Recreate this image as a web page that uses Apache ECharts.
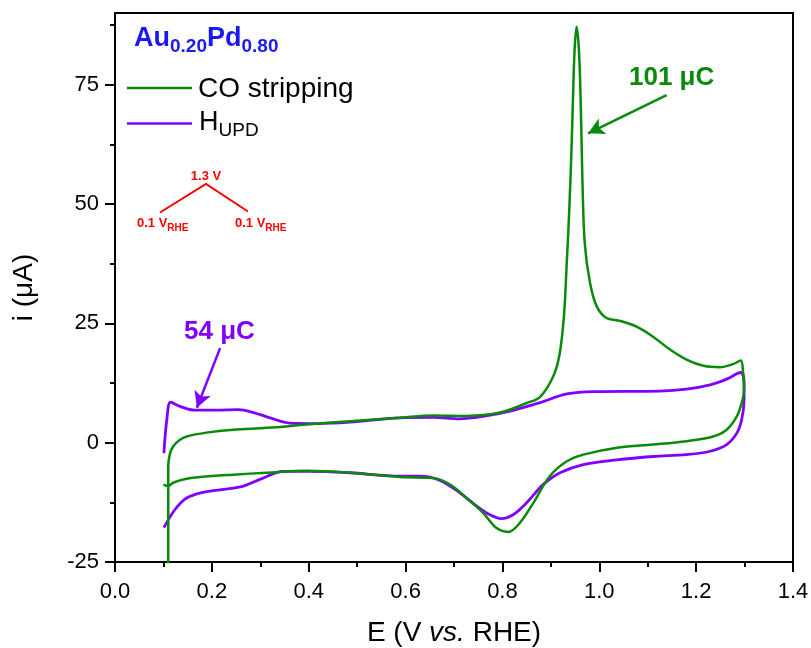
<!DOCTYPE html>
<html>
<head>
<meta charset="utf-8">
<script src="https://cdn.jsdelivr.net/npm/echarts@6/dist/echarts.min.js"></script>
<style>
html,body{margin:0;padding:0;background:#fff;}
#chart{width:811px;height:648px;}
</style>
</head>
<body>
<div id="chart"></div>
<script>
// ---- data (E in V vs RHE, i in µA) ----
const coE = [0.110,0.110,0.113,0.120,0.134,0.148,0.189,0.244,0.313,0.396,0.485,0.588,0.657,0.726,0.795,0.850,0.878,0.905,0.918,0.927,0.933,0.938,0.943,0.946,0.949,0.953,0.958,0.962,0.965,0.970,0.981,0.995,1.015,1.043,1.077,1.111,1.146,1.180,1.215,1.249,1.277,1.292,
  1.297,1.299,1.294,1.284,1.263,1.235,1.180,1.111,1.040,0.967,0.933,0.898,0.864,0.836,0.812,0.788,0.760,0.726,0.692,0.657,0.588,0.485,0.396,0.313,0.244,0.176,0.141,0.120,0.110,0.100];
const coI = [-30,-5,-2.5,-0.8,0.6,1.3,2.1,2.7,3.1,3.8,4.5,5.2,5.7,5.6,6.3,8.3,9.6,13.9,18.5,26.5,38.0,48.7,62.7,73.2,82.2,87.1,82.2,69.7,55.7,41.8,33.4,28.5,26.1,25.5,24.3,22.2,19.5,17.4,16.1,15.8,16.5,17.2,
  14.6,11.1,8.3,5.5,2.7,1.3,0.3,-0.4,-1.0,-2.5,-3.9,-7.0,-12.6,-16.8,-18.7,-17.9,-14.7,-11.6,-8.8,-7.4,-7.2,-6.3,-5.9,-6.3,-6.7,-7.2,-7.7,-8.4,-9.1,-8.8];
const hE = [0.101,0.107,0.115,0.134,0.165,0.210,0.255,0.286,0.320,0.361,0.416,0.485,0.588,0.657,0.712,0.760,0.816,0.878,0.933,0.988,1.125,1.180,1.229,1.263,1.292,
  1.299,1.299,1.294,1.284,1.263,1.229,1.180,1.111,1.036,0.967,0.919,0.884,0.850,0.822,0.798,0.774,0.747,0.712,0.671,0.630,0.588,0.485,0.403,0.348,0.299,0.265,0.224,0.182,0.148,0.124,0.101];
const hI = [-2.2,4.8,8.5,7.6,6.8,6.8,6.9,6.3,5.2,4.1,4.0,4.3,5.2,5.3,5.0,5.5,6.6,8.4,10.2,10.7,10.8,11.2,12.1,13.3,14.7,
  12.5,9.0,4.8,2.0,-0.4,-1.8,-2.5,-2.9,-3.6,-4.6,-6.3,-8.8,-12.6,-15.1,-15.9,-15.1,-13.3,-10.5,-7.9,-7.0,-7.0,-6.3,-6.0,-6.0,-7.7,-9.1,-9.8,-10.4,-11.6,-14.0,-17.8];
const xTicks = [0, 0.2, 0.4, 0.6, 0.8, 1.0, 1.2, 1.4];
const yTicks = [-25, 0, 25, 50, 75];
const yMinorTicks = [-12.5, 12.5, 37.5, 62.5, 87.5];
const seriesNames = ['CO stripping', 'H_UPD'];
const coArrow = [[1.139, 72.8], [0.977, 64.8]];
const hArrow = [[0.217, 19.8], [0.169, 7.3]];

const GREEN = '#0a8a0a', PURPLE = '#8000ff', BLUE = '#1a1af0', RED = '#ff0000';
const FONT = '"Liberation Sans", Arial, sans-serif';

const zip = (a, b) => a.map((v, i) => [v, b[i]]);
const chart = echarts.init(document.getElementById('chart'), null, {renderer: 'canvas'});

const axisLine = {show: true, onZero: false, lineStyle: {color: '#000', width: 2}};
const redRich = {
  a: {fontSize: 13, fontWeight: 'bold', fontFamily: FONT, fill: RED, color: RED, verticalAlign: 'top'},
  s: {fontSize: 10, fontWeight: 'bold', fontFamily: FONT, fill: RED, color: RED, verticalAlign: 'top', padding: [6, 0, 0, 0]}
};
const option = {
  animation: false,
  backgroundColor: '#fff',
  grid: {left: 115, right: 18, top: 13, bottom: 86, show: true, borderColor: '#000', borderWidth: 2, backgroundColor: 'transparent',
    containLabel: false, outerBoundsMode: 'none'},
  xAxis: {
    type: 'value', min: 0, max: 1.4, interval: 0.2,
    axisLine: axisLine,
    axisTick: {show: true, inside: false, length: 10, lineStyle: {color: '#000', width: 2}},
    minorTick: {show: true, splitNumber: 2, length: 5, lineStyle: {color: '#000', width: 2}},
    splitLine: {show: false}, minorSplitLine: {show: false},
    axisLabel: {color: '#000', fontSize: 22, fontFamily: FONT, margin: 19, formatter: v => v.toFixed(1)},
    name: '{n|E (V }{i|vs.}{n| RHE)}', nameLocation: 'middle', nameGap: 57,
    nameTextStyle: {rich: {n: {fontSize: 28, fontFamily: FONT, color: '#000'}, i: {fontSize: 28, fontFamily: FONT, fontStyle: 'italic', color: '#000'}}}
  },
  yAxis: [{
    type: 'value', min: -25, max: 90, interval: 25,
    axisLine: axisLine,
    axisTick: {show: true, inside: false, length: 10, customValues: yTicks, lineStyle: {color: '#000', width: 2}},
    axisLabel: {color: '#000', fontSize: 22, fontFamily: FONT, margin: 16, customValues: yTicks},
    splitLine: {show: false},
    name: 'i (μA)', nameLocation: 'middle', nameGap: 77,
    nameTextStyle: {fontSize: 28, fontFamily: FONT, color: '#000'}
  }, {
    type: 'value', min: -25, max: 90, position: 'left',
    axisLine: {show: false},
    axisTick: {show: true, inside: false, length: 5, customValues: yMinorTicks, lineStyle: {color: '#000', width: 2}},
    axisLabel: {show: false},
    splitLine: {show: false}
  }],
  series: [{
    name: seriesNames[0], type: 'line', data: zip(coE, coI), showSymbol: false, smooth: 0.35,
    lineStyle: {color: GREEN, width: 2.5}, clip: true, z: 3,
    markLine: {silent: true, symbol: ['none', 'arrow'], symbolSize: [13, 16], label: {show: false},
      lineStyle: {color: GREEN, width: 2.5, type: 'solid'},
      data: [[{coord: coArrow[0]}, {coord: coArrow[1]}]]}
  }, {
    name: seriesNames[1], type: 'line', data: zip(hE, hI), showSymbol: false, smooth: 0.35,
    lineStyle: {color: PURPLE, width: 2.8}, clip: true, z: 2,
    markLine: {silent: true, symbol: ['none', 'arrow'], symbolSize: [13, 16], label: {show: false},
      lineStyle: {color: PURPLE, width: 2.5, type: 'solid'},
      data: [[{coord: hArrow[0]}, {coord: hArrow[1]}]]}
  }],
  graphic: [
    {type: 'text', x: 134, y: 25, style: {text: '{a|Au}{s|0.20}{a|Pd}{s|0.80}', rich: {
      a: {fontSize: 27, fontWeight: 'bold', fontFamily: FONT, fill: BLUE, color: BLUE, verticalAlign: 'top'},
      s: {fontSize: 19, fontWeight: 'bold', fontFamily: FONT, fill: BLUE, color: BLUE, verticalAlign: 'top', padding: [12, 0, 0, 0]}}}},
    {type: 'line', shape: {x1: 127, y1: 88, x2: 192, y2: 88}, style: {stroke: GREEN, lineWidth: 2.5}},
    {type: 'text', x: 198, y: 89, style: {text: 'CO stripping', font: '28px ' + FONT, fill: '#000', verticalAlign: 'middle'}},
    {type: 'line', shape: {x1: 127, y1: 123.5, x2: 192, y2: 123.5}, style: {stroke: PURPLE, lineWidth: 2.5}},
    {type: 'text', x: 199, y: 109, style: {text: '{a|H}{s|UPD}', rich: {
      a: {fontSize: 27, fontFamily: FONT, fill: '#000', color: '#000', verticalAlign: 'top'},
      s: {fontSize: 19, fontFamily: FONT, fill: '#000', color: '#000', verticalAlign: 'top', padding: [12, 0, 0, 0]}}}},
    {type: 'polyline', shape: {points: [[160, 212.5], [206, 184], [248, 211.5]]}, style: {stroke: RED, lineWidth: 2, fill: null}},
    {type: 'text', x: 206, y: 176, style: {text: '1.3 V', font: 'bold 13px ' + FONT, fill: RED, align: 'center', verticalAlign: 'middle'}},
    {type: 'text', x: 137, y: 217, style: {text: '{a|0.1 V}{s|RHE}', fill: RED, rich: redRich}},
    {type: 'text', x: 235, y: 217, style: {text: '{a|0.1 V}{s|RHE}', fill: RED, rich: redRich}},
    {type: 'text', x: 184, y: 332, style: {text: '54 μC', font: 'bold 26px ' + FONT, fill: PURPLE, verticalAlign: 'middle'}},
    {type: 'text', x: 629, y: 78, style: {text: '101 μC', font: 'bold 26px ' + FONT, fill: GREEN, verticalAlign: 'middle'}}
  ]
};
chart.setOption(option);
</script>
</body>
</html>
